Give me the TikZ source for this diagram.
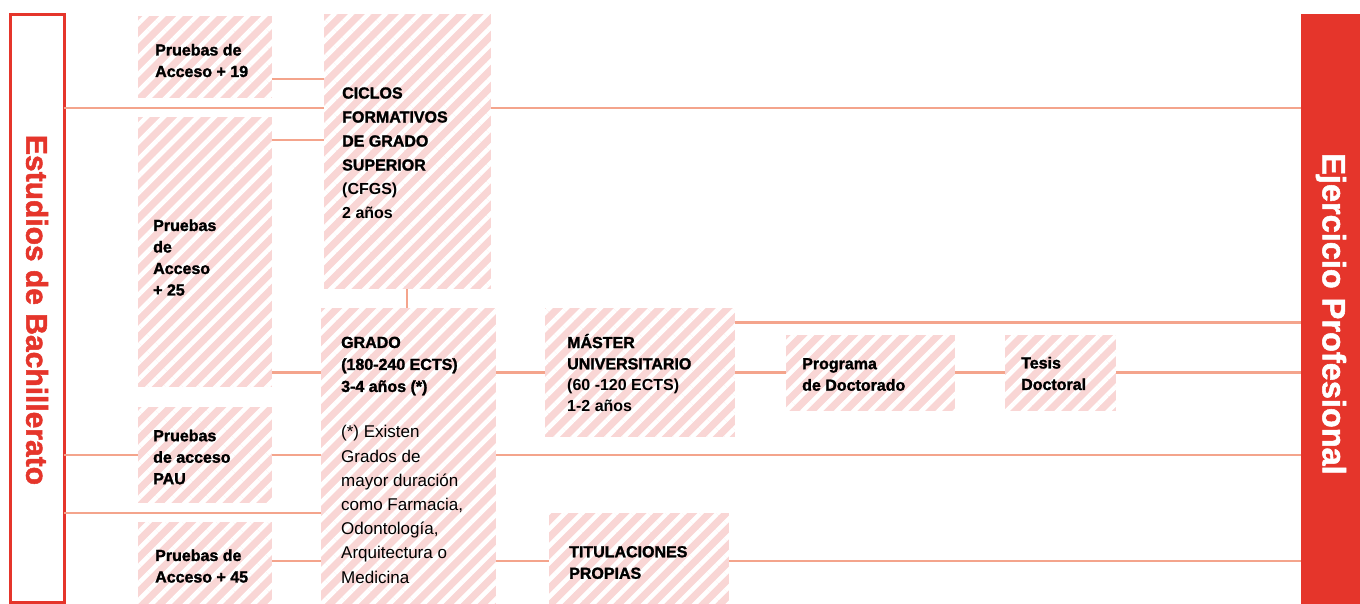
\documentclass[tikz,border=0pt]{standalone}
\usepackage{fontspec}
\setmainfont{Liberation Sans}[BoldFeatures={FakeBold=1.6}]
\newfontfamily\medfont{Liberation Sans Bold}
\usetikzlibrary{patterns.meta}
\definecolor{pinkfill}{HTML}{F9D6D5}
\definecolor{conncol}{HTML}{F4A48C}
\definecolor{redc}{HTML}{E5352B}
\begin{document}
\begin{tikzpicture}[x=1pt,y=-1pt,
  hbox/.style={draw=none, inner sep=0pt, outer sep=0pt, preaction={fill=pinkfill},
    pattern={Lines[angle=45,distance=12pt,line width=4.6pt]}, pattern color=white},
  conn/.style={draw=conncol, line width=2.5pt},
  btxt/.style={anchor=west, align=left, inner sep=0pt, text=black,
    font=\bfseries\fontsize{16}{21.5}\selectfont},
  sidetxt/.style={rotate=-90, inner sep=0pt}
 ]
\useasboundingbox (0,0) rectangle (1360,603);

% side boxes
\node[draw=redc, line width=3pt, fill=white, inner sep=0pt, outer sep=0pt,
      minimum width=53.5pt, minimum height=588pt] (left) at (37.25,308) {};
\node[sidetxt, text=redc, font=\bfseries\fontsize{30}{30}\selectfont] (lefttxt) at (37,310) {Estudios de Bachillerato};
\node[fill=redc, draw=none, inner sep=0pt, outer sep=0pt,
      minimum width=69pt, minimum height=600pt] (right) at (1335.5,314) {};
\node[sidetxt, text=white, font=\bfseries\fontsize{32.5}{32}\selectfont] (righttxt) at (1331,314) {Ejercicio Profesional};

% hatched boxes
\node[hbox, minimum width=134pt, minimum height=82pt]  (p19)   at (205,57) {};
\node[hbox, minimum width=134pt, minimum height=270pt] (p25)   at (205,252) {};
\node[hbox, minimum width=134pt, minimum height=96pt]  (pau)   at (205,455) {};
\node[hbox, minimum width=134pt, minimum height=88pt]  (p45)   at (205,566) {};
\node[hbox, minimum width=167pt, minimum height=275pt] (cfgs)  at (407.5,151.5) {};
\node[hbox, minimum width=175pt, minimum height=302pt] (grado) at (408.5,459) {};
\node[hbox, minimum width=190pt, minimum height=129pt] (master) at (640,372.5) {};
\node[hbox, minimum width=169pt, minimum height=76pt]  (prog)  at (870.5,373) {};
\node[hbox, minimum width=111pt, minimum height=76pt]  (tesis) at (1060.5,373) {};
\node[hbox, minimum width=180pt, minimum height=97pt]  (titul) at (639,561.5) {};

% y levels
\coordinate (y79) at (0,79);
\coordinate (y108) at (0,108);
\coordinate (y140) at (0,140);
\coordinate (y322) at (0,322.5);
\coordinate (y372) at (0,372.5);
\coordinate (y455) at (0,455);
\coordinate (y513) at (0,513);
\coordinate (y561) at (0,561);

% connectors
\draw[conn] (p19.east |- y79) -- (cfgs.west |- y79);
\draw[conn] (left.east |- y108) -- (cfgs.west |- y108);
\draw[conn] (cfgs.east |- y108) -- (right.west |- y108);
\draw[conn] (p25.east |- y140) -- (cfgs.west |- y140);
\draw[conn] (cfgs.south -| 407,0) -- (grado.north -| 407,0);
\draw[conn] (master.east |- y322) -- (right.west |- y322);
\draw[conn] (p25.east |- y372) -- (grado.west |- y372);
\draw[conn] (grado.east |- y372) -- (master.west |- y372);
\draw[conn] (master.east |- y372) -- (prog.west |- y372);
\draw[conn] (prog.east |- y372) -- (tesis.west |- y372);
\draw[conn] (tesis.east |- y372) -- (right.west |- y372);
\draw[conn] (left.east |- y455) -- (pau.west |- y455);
\draw[conn] (pau.east |- y455) -- (grado.west |- y455);
\draw[conn] (grado.east |- y455) -- (right.west |- y455);
\draw[conn] (left.east |- y513) -- (grado.west |- y513);
\draw[conn] (p45.east |- y561) -- (grado.west |- y561);
\draw[conn] (grado.east |- y561) -- (titul.west |- y561);
\draw[conn] (titul.east |- y561) -- (right.west |- y561);

% texts
\node[btxt] (p19t) at (155,60.5) {Pruebas de\\Acceso + 19};
\node[btxt] (p25t) at (153,257.5) {Pruebas\\de\\Acceso\\+ 25};
\node[btxt] (paut) at (153,457) {Pruebas\\de acceso\\PAU};
\node[btxt] (p45t) at (155,566) {Pruebas de\\Acceso + 45};
\node[btxt, font=\bfseries\fontsize{16}{24}\selectfont] (cfgst) at (342,153)
  {CICLOS\\FORMATIVOS\\DE GRADO\\SUPERIOR\\{\mdseries\medfont (CFGS)}\\{\mdseries\medfont 2 años}};
\node[btxt, font=\bfseries\fontsize{16}{22}\selectfont] (gradot) at (341,366)
  {GRADO\\(180-240 ECTS)\\3-4 años (*)};
\node[btxt, font=\mdseries\fontsize{17}{24.2}\selectfont] (notet) at (341,504.5)
  {(*) Existen\\Grados de\\mayor duración\\como Farmacia,\\Odontología,\\Arquitectura o\\Medicina};
\node[btxt, font=\bfseries\fontsize{16}{21.3}\selectfont] (mastert) at (567,373)
  {MÁSTER\\UNIVERSITARIO\\{\mdseries\medfont (60 -120 ECTS)}\\{\mdseries\medfont 1-2 años}};
\node[btxt] (progt) at (802,374.5) {Programa\\de Doctorado};
\node[btxt] (tesist) at (1021,373.5) {Tesis\\Doctoral};
\node[btxt] (titult) at (569,562.5) {TITULACIONES\\PROPIAS};
\end{tikzpicture}
\end{document}
